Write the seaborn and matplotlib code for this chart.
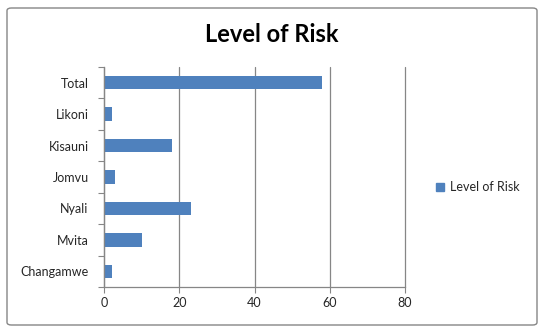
import matplotlib
matplotlib.use("Agg")
import matplotlib.pyplot as plt
import seaborn as sns
import pandas as pd
import numpy as np
from matplotlib.patches import FancyBboxPatch, Patch

categories = ["Total", "Likoni", "Kisauni", "Jomvu", "Nyali", "Mvita", "Changamwe"]
values = [58, 2, 18, 3, 23, 10, 2]
series_name = "Level of Risk"
x_ticks = [0, 20, 40, 60, 80]

sns.set_theme(style="white")
plt.rcParams['font.family'] = ['Lato', 'DejaVu Sans']

df = pd.DataFrame({"Area": categories, series_name: values})

fig = plt.figure(figsize=(5.44, 3.33), dpi=100)
ax = fig.add_axes([104/544, 1-287/333, (405-104)/544, (287-67)/333])

bar_color = "#4F81BD"
sns.barplot(data=df, y="Area", x=series_name, order=categories, orient="h",
            color=bar_color, width=0.43, ax=ax, saturation=1, linewidth=0)

ax.set_xlim(0, 80)
ax.set_ylim(len(categories) - 0.5, -0.5)
ax.set_xticks(x_ticks)
ax.set_xticklabels([str(t) for t in x_ticks], fontsize=9)
ax.set_yticks(range(len(categories)))
ax.set_yticklabels(categories, fontsize=9)
ax.set_xlabel("")
ax.set_ylabel("")

ax.set_yticks(np.arange(-0.5, len(categories), 1.0), minor=True)
ax.tick_params(axis="y", which="major", length=0, pad=11)
ax.tick_params(axis="y", which="minor", length=4, color="#868686", width=0.8, direction="out", left=True)
ax.tick_params(axis="x", which="major", length=4, color="#868686", width=0.8, direction="out", bottom=True, pad=3)

ax.grid(axis="x", color="#868686", linewidth=0.9)
for gl in ax.get_xgridlines():
    gl.set_clip_on(False)
ax.set_axisbelow(True)
for s in ["top", "right"]:
    ax.spines[s].set_visible(False)
for s in ["left", "bottom"]:
    ax.spines[s].set_color("#868686")
    ax.spines[s].set_linewidth(0.9)

fig.text(272/544, 1-34/333, "Level of Risk", ha="center", va="center",
         fontsize=17, fontweight="bold", color="black")

handle = Patch(facecolor=bar_color, edgecolor=bar_color)
fig.legend([handle], [series_name], loc="center left",
           bbox_to_anchor=(425/544, 1-187/333), frameon=False, fontsize=9,
           handlelength=0.6, handleheight=0.6, handletextpad=0.5)

border = FancyBboxPatch((7/544, 8/333), (537-7)/544, (325-8)/333,
                        boxstyle="round,pad=0,rounding_size=0.008",
                        transform=fig.transFigure, facecolor="none",
                        edgecolor="#868686", linewidth=1.0)
fig.patches.append(border)

fig.savefig("out.png", dpi=100)
